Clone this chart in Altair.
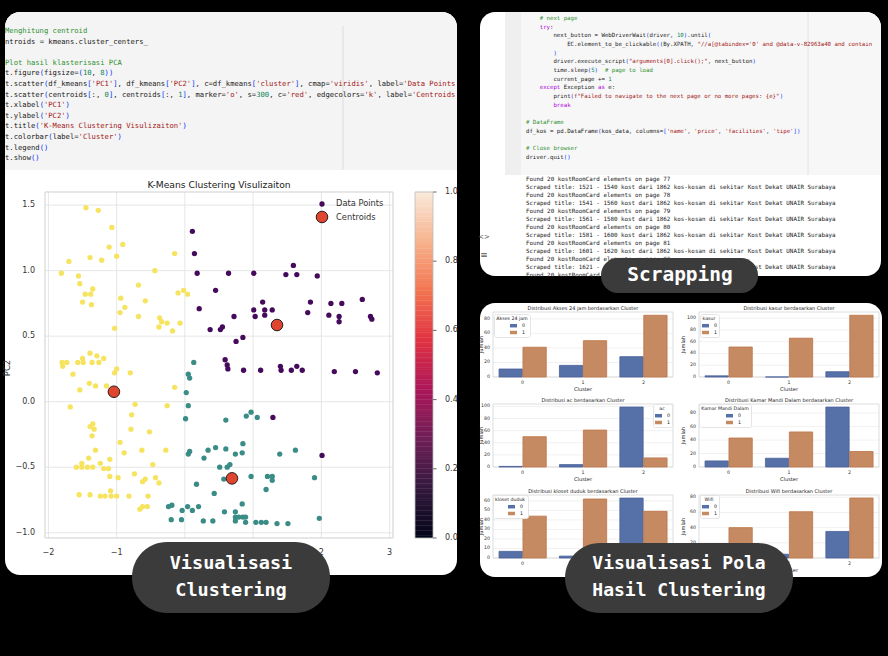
import re
import altair as alt
import pandas as pd

# ---------------- K-Means scatter data ----------------
purple_x = [0.11, 0.14, 0.18, 0.64, 0.45, 0.21, 0.37, 0.52, 0.55, 0.59, 0.62, 0.63,
            1.01, 1.59, 1.48, 1.64, 1.94, 1.14, 1.01, 1.17, 1.28, 1.03, 1.17, 0.72, 0.75, 0.85,
            1.84, 1.80, 2.14, 2.30, 2.60, 2.11, 2.26, 2.26, 2.72, 2.74,
            0.86, 1.11, 1.40, 1.41, 1.56, 1.64, 1.72, 2.19, 2.50, 2.82, 1.29, 2.01]
purple_y = [1.30, 1.13, 0.98, 0.98, 0.85, 0.71, 0.55, 0.55, 0.57, 0.32, 0.28, 0.25,
            0.98, 1.04, 0.97, 0.97, 0.96, 0.76, 0.70, 0.70, 0.70, 0.65, 0.66, 0.65, 0.46, 0.49,
            0.76, 0.68, 0.75, 0.75, 0.78, 0.66, 0.65, 0.61, 0.65, 0.63,
            0.24, 0.24, 0.27, 0.24, 0.24, 0.27, 0.24, 0.23, 0.23, 0.22, -0.12, -0.41]
teal_x = [0.13, 0.05, 0.07, 0.02, 0.05, 0.01,
          0.97, 0.90, 1.06, 0.60, 0.85, 0.60, 0.45, 0.34, 0.28, 0.74, 0.84, 1.39, 1.62,
          0.05, 0.07,
          0.51, 0.62, 0.66, 0.57, 0.97, 1.21, 1.28, 1.28, 1.90, 1.19, 0.43, 0.17,
          0.84, 0.58, 0.74, 0.74, 0.79, 0.85, 0.89, 0.74, 0.89, 0.27, 0.41, 1.04, 1.12, 1.19, 1.35, 1.51, 1.97,
          -0.24, -0.19, 0.04, 0.20, -0.04, 0.11, -0.20, -0.05]
teal_y = [0.30, 0.21, 0.18, 0.07, -0.03, -0.13,
          -0.08, -0.11, -0.12, -0.14, -0.32, -0.36, -0.35, -0.37, -0.43, -0.40, -0.39, -0.40, -0.37,
          -0.40, -0.38,
          -0.50, -0.50, -0.48, -0.59, -0.57, -0.57, -0.57, -0.60, -0.58, -0.67, -0.70, -0.63,
          -0.78, -0.84, -0.84, -0.88, -0.88, -0.88, -0.88, -0.91, -0.92, -0.91, -0.91, -0.92, -0.92, -0.92, -0.93, -0.93, -0.89,
          -0.80, -0.79, -0.80, -0.80, -0.83, -0.83, -0.90, -0.90]
yellow_x = [-1.45, -1.27, -1.07, -1.11, -0.91, -1.39, -1.22, -1.00, -1.70, -1.81, -1.56, -1.54, -1.46, -1.38,
            -1.35, -1.50, -1.37, -0.94, -0.88, -0.95, -1.03, -0.68, -0.58, -0.68, -0.44, -0.15, -0.02, -0.10,
            0.04, -0.37, -0.34, -0.26, -0.38, -0.18, -0.07,
            -1.80, -1.79, -1.73, -1.57, -1.50, -1.49, -1.39, -1.36, -1.29, -1.26, -1.19, -1.64, -1.00, -1.03, -0.80,
            -1.54, -1.40, -1.31, -1.15, -0.15, -1.68, -0.73, -0.26, -0.78, -1.39, -1.35, -1.33, -1.36, -0.79,
            -0.52, -0.95, -0.89, -1.31, -0.63, -0.28, -1.41, -1.10, -1.51, -1.24, -1.59, -1.51, -1.43, -1.35,
            -1.19, -1.12, -0.47, -0.74, -1.10, -0.98, -0.58, -0.62, -0.43, -0.38, -1.55, -1.39, -1.24, -1.17,
            -1.08, -1.00, -1.09, -0.82, -0.54, -0.62, -0.55, -0.66]
yellow_y = [1.48, 1.46, 1.33, 1.18, 1.20, 1.10, 1.08, 1.11, 1.07, 0.98, 0.96, 0.90, 0.82, 0.82,
            0.86, 0.76, 0.74, 0.79, 0.72, 0.68, 0.56, 0.89, 0.77, 0.65, 1.00, 1.13, 0.85, 0.83,
            0.82, 0.64, 0.61, 0.60, 0.57, 0.54, 0.60,
            0.30, 0.27, 0.30, 0.30, 0.33, 0.30, 0.37, 0.30, 0.35, 0.30, 0.33, 0.21, 0.25, 0.22, 0.22,
            0.09, 0.14, 0.12, 0.12, 0.11, -0.04, -0.02, -0.03, -0.10, -0.19, -0.17, -0.21, -0.26, -0.21,
            -0.23, -0.31, -0.39, -0.37, -0.37, -0.37, -0.43, -0.44, -0.47, -0.47, -0.50, -0.50, -0.50, -0.50,
            -0.51, -0.51, -0.48, -0.55, -0.57, -0.58, -0.59, -0.61, -0.58, -0.62, -0.71, -0.71, -0.72, -0.72,
            -0.72, -0.72, -0.68, -0.72, -0.72, -0.80, -0.80, -0.82]
centroid_x = [1.35, 0.69, -1.04]
centroid_y = [0.585, -0.585, 0.076]

x_ticks = [-2, -1, 0, 1, 2, 3]
x_tick_labels = ["\u22122", "\u22121", "0", "1", "2", "3"]
y_ticks = [-1.0, -0.5, 0.0, 0.5, 1.0, 1.5]
y_tick_labels = ["\u22121.0", "\u22120.5", "0.0", "0.5", "1.0", "1.5"]
cb_ticks = [0.0, 0.2, 0.4, 0.6, 0.8, 1.0]
cb_tick_labels = ["0.0", "0.2", "0.4", "0.6", "0.8", "1.0"]

# ---------------- bar chart data ----------------
clusters = [0, 1, 2]
akses_0 = [11, 16, 28]; akses_1 = [41, 50, 85]
kasur_0 = [2, 0, 9]; kasur_1 = [51, 66, 105]
ac_0 = [1, 4, 99]; ac_1 = [50, 61, 15]
kmd_0 = [9, 13, 89]; kmd_1 = [43, 52, 23]
kloset_0 = [7, 2, 63]; kloset_1 = [44, 62, 49]
wifi_0 = [11, 5, 35]; wifi_1 = [40, 61, 79]

# ---------------- code text ----------------
left_code = [
    "Menghitung centroid",
    "ntroids = kmeans.cluster_centers_",
    "",
    "Plot hasil klasterisasi PCA",
    "t.figure(figsize=(10, 8))",
    "t.scatter(df_kmeans['PC1'], df_kmeans['PC2'], c=df_kmeans['cluster'], cmap='viridis', label='Data Points",
    "t.scatter(centroids[:, 0], centroids[:, 1], marker='o', s=300, c='red', edgecolors='k', label='Centroids",
    "t.xlabel('PC1')",
    "t.ylabel('PC2')",
    "t.title('K-Means Clustering Visulizaiton')",
    "t.colorbar(label='Cluster')",
    "t.legend()",
    "t.show()",
]
left_comment_rows = [0, 3]
right_code = [
    "    # next page",
    "    try:",
    "        next_button = WebDriverWait(driver, 10).until(",
    "            EC.element_to_be_clickable((By.XPATH, \"//a[@tabindex='0' and @data-v-82963a40 and contain",
    "        )",
    "        driver.execute_script(\"arguments[0].click();\", next_button)",
    "        time.sleep(5)  # page to load",
    "        current_page += 1",
    "    except Exception as e:",
    "        print(f\"Failed to navigate to the next page or no more pages: {e}\")",
    "        break",
    "",
    "# DataFrame",
    "df_kos = pd.DataFrame(kos_data, columns=['name', 'price', 'facilities', 'tipe'])",
    "",
    "# Close browser",
    "driver.quit()",
]
output_lines = [
    "Found 20 kostRoomCard elements on page 77",
    "Scraped title: 1521 - 1540 kost dari 1862 kos-kosan di sekitar Kost Dekat UNAIR Surabaya",
    "Found 20 kostRoomCard elements on page 78",
    "Scraped title: 1541 - 1560 kost dari 1862 kos-kosan di sekitar Kost Dekat UNAIR Surabaya",
    "Found 20 kostRoomCard elements on page 79",
    "Scraped title: 1561 - 1580 kost dari 1862 kos-kosan di sekitar Kost Dekat UNAIR Surabaya",
    "Found 20 kostRoomCard elements on page 80",
    "Scraped title: 1581 - 1600 kost dari 1862 kos-kosan di sekitar Kost Dekat UNAIR Surabaya",
    "Found 20 kostRoomCard elements on page 81",
    "Scraped title: 1601 - 1620 kost dari 1862 kos-kosan di sekitar Kost Dekat UNAIR Surabaya",
    "Found 20 kostRoomCard elements on page 82",
    "Scraped title: 1621 - 1640 kost dari 1862 kos-kosan di sekitar Kost Dekat UNAIR Surabaya",
    "Found 20 kostRoomCard elements on page 83",
]

# ---------------- styles ----------------
VIRIDIS3 = ["#450a5c", "#3a8c86", "#f6e35f"]
ROCKET_STOPS = [0, 1 / 7, 2 / 7, 3 / 7, 4 / 7, 5 / 7, 6 / 7, 1]
ROCKET = ["#03051a", "#35193e", "#701f57", "#ad1759", "#e13342", "#f37651", "#f6b48f", "#faebdd"]
BLUE, ORANGE = "#5670a8", "#c68a62"
BLUE_E, ORANGE_E = "#4a619a", "#bf7446"
KINDS = ["plain", "comment", "string", "number", "bracket", "keyword"]
KCOLORS = ["#202020", "#2f8f2f", "#a31515", "#098658", "#0431fa", "#af00db"]
SANS = "DejaVu Sans"
MONO = "DejaVu Sans Mono"
ONE = pd.DataFrame({"k": [0]})


def lin(domain, rng):
    return alt.Scale(domain=domain, range=rng, nice=False, zero=False)


def box(x0, x1, y0, y1, fill, **kw):
    return alt.Chart(ONE).mark_rect(fill=fill, **kw).encode(
        x=alt.value(x0), x2=alt.value(x1), y=alt.value(y0), y2=alt.value(y1))


def vline(x, y0, y1, color):
    return alt.Chart(ONE).mark_rule(color=color, strokeWidth=1).encode(
        x=alt.value(x), y=alt.value(y0), y2=alt.value(y1))


def label(text, x, y, size, color="#222", **kw):
    return alt.Chart(ONE).mark_text(text=text, fontSize=size, color=color, font=SANS, **kw).encode(
        x=alt.value(x), y=alt.value(y))


TOK = re.compile(r"#.*$|f?\"[^\"]*\"?|'[^']*'?|\d+|[()\[\]{}]|[A-Za-z_][A-Za-z_0-9]*|\S")
KW = {"try", "except", "as", "break"}


def segments(lines, comment_rows=()):
    rows = []
    for r, line in enumerate(lines):
        if not line.strip():
            continue
        if r in comment_rows:
            rows.append((r, len(line) - len(line.lstrip()), line.strip(), "comment"))
            continue
        toks = []
        for m in TOK.finditer(line):
            s = m.group(0)
            if s.startswith("#"):
                k = "comment"
            elif s[0] in "\"'" or s.startswith('f"'):
                k = "string"
            elif s.isdigit():
                k = "number"
            elif s in "()[]{}":
                k = "bracket"
            elif s in KW:
                k = "keyword"
            else:
                k = "plain"
            toks.append([m.start(), m.end(), s, k])
        merged = []
        for t in toks:
            if merged and merged[-1][3] == t[3] and merged[-1][1] == t[0] and t[3] != "bracket":
                merged[-1][1] = t[1]
                merged[-1][2] += t[2]
            else:
                merged.append(t)
        for a, b, s, k in merged:
            rows.append((r, a, s, k))
    return pd.DataFrame(rows, columns=["row", "col", "text", "kind"])


def code_layer(df, x0, cw, y0, lh, fs, nrows):
    return alt.Chart(df).mark_text(align="left", baseline="middle", font=MONO, fontSize=fs).encode(
        x=alt.X("col:Q", scale=lin([0, 100], [x0, x0 + 100 * cw]), axis=None),
        y=alt.Y("row:Q", scale=lin([0, nrows - 1], [y0, y0 + (nrows - 1) * lh]), axis=None),
        text="text:N",
        color=alt.Color("kind:N", scale=alt.Scale(domain=KINDS, range=KCOLORS), legend=None),
    )


# ---------------- background panels ----------------
background = alt.layer(
    box(5, 457, 12, 575, "white", cornerRadius=15),
    box(5, 457, 12, 170, "#f4f4f4", cornerRadiusTopLeft=15, cornerRadiusTopRight=15),
    vline(343, 26, 170, "#dcdcdc"),
    box(480, 881, 12, 276, "white", cornerRadius=15),
    box(505, 881, 12, 175, "#f7f7f7", cornerRadiusTopRight=15),
    box(505, 521, 12, 175, "#efefef"),
    vline(808, 12, 175, "#e2e2e2"),
    label("<>", 484, 237, 7, "#555"),
    label("\u2261", 484, 255, 9, "#555"),
    box(480, 882, 303, 577, "white", cornerRadius=15),
)

# ---------------- scatter ----------------
SX = lin([-2.05, 3.05], [45, 393])
SY = lin([-1.04, 1.60], [538, 192])
pts = pd.DataFrame({
    "x": purple_x + teal_x + yellow_x,
    "y": purple_y + teal_y + yellow_y,
    "cluster": [0] * len(purple_x) + [1] * len(teal_x) + [2] * len(yellow_x),
})
cdf = pd.DataFrame({"x": centroid_x, "y": centroid_y})
xt = pd.DataFrame({"v": x_ticks, "lab": x_tick_labels})
yt = pd.DataFrame({"v": y_ticks, "lab": y_tick_labels})


def sx(f):
    return alt.X(f, scale=SX, axis=None)


def sy(f):
    return alt.Y(f, scale=SY, axis=None)


XD0 = alt.XDatum(-2.05, scale=SX, axis=None)
YD0 = alt.YDatum(-1.04, scale=SY, axis=None)

scatter = alt.layer(
    alt.Chart(xt).mark_rule(color="#e3e3e3", strokeWidth=0.9).encode(
        x=sx("v:Q"), y=YD0, y2=alt.Y2Datum(1.60)),
    alt.Chart(yt).mark_rule(color="#e3e3e3", strokeWidth=0.9).encode(
        y=sy("v:Q"), x=XD0, x2=alt.X2Datum(3.05)),
    alt.Chart(ONE).mark_rect(fillOpacity=0, stroke="#cfcfcf", strokeWidth=1).encode(
        x=XD0, x2=alt.X2Datum(3.05), y=YD0, y2=alt.Y2Datum(1.60)),
    alt.Chart(pts).mark_circle(size=28, opacity=1).encode(
        x=sx("x:Q"), y=sy("y:Q"),
        color=alt.Color("cluster:N", scale=alt.Scale(domain=[0, 1, 2], range=VIRIDIS3), legend=None)),
    alt.Chart(cdf).mark_circle(size=135, opacity=1, color="#e0452f", stroke="#111111", strokeWidth=0.9).encode(
        x=sx("x:Q"), y=sy("y:Q")),
    alt.Chart(xt).mark_text(fontSize=8, color="#333", font=SANS, dy=15).encode(
        x=sx("v:Q"), y=YD0, text="lab:N"),
    alt.Chart(yt).mark_text(fontSize=8, color="#333", font=SANS, align="right", dx=-10).encode(
        y=sy("v:Q"), x=XD0, text="lab:N"),
    alt.Chart(ONE).mark_text(text="K-Means Clustering Visulizaiton", fontSize=9.2, color="#222",
                             font=SANS, dy=-7).encode(
        x=alt.XDatum(0.5, scale=SX, axis=None), y=alt.YDatum(1.60, scale=SY, axis=None)),
)
scatter_extra = alt.layer(
    label("PC2", 7, 368, 8.5, "#333", angle=270),
    alt.Chart(ONE).mark_circle(size=28, opacity=1, color=VIRIDIS3[0]).encode(
        x=alt.value(322), y=alt.value(204)),
    alt.Chart(ONE).mark_circle(size=135, opacity=1, color="#e0452f", stroke="#111111", strokeWidth=0.9).encode(
        x=alt.value(322), y=alt.value(217)),
    label("Data Points", 336, 204, 8.3, "#333", align="left"),
    label("Centroids", 336, 218, 8.3, "#333", align="left"),
)

# ---------------- colorbar ----------------
CX = lin([0, 1], [415, 433])
CY = lin([0, 1], [538, 192])
NCELL = 140
cells = pd.DataFrame({"v": [i / NCELL for i in range(NCELL)]})
cells["v2"] = cells["v"] + 1.15 / NCELL
cbt = pd.DataFrame({"v": cb_ticks, "lab": cb_tick_labels})
colorbar = alt.layer(
    alt.Chart(cells).mark_rect(strokeWidth=0).encode(
        x=alt.XDatum(0, scale=CX, axis=None), x2=alt.X2Datum(1),
        y=alt.Y("v:Q", scale=CY, axis=None), y2="v2:Q",
        color=alt.Color("v:Q", scale=alt.Scale(domain=ROCKET_STOPS, range=ROCKET, interpolate="rgb"),
                        legend=None)),
    alt.Chart(ONE).mark_rect(fillOpacity=0, stroke="#bbbbbb", strokeWidth=0.8).encode(
        x=alt.XDatum(0, scale=CX, axis=None), x2=alt.X2Datum(1),
        y=alt.YDatum(0, scale=CY, axis=None), y2=alt.Y2Datum(1)),
    alt.Chart(cbt).mark_rule(color="#444", strokeWidth=0.8).encode(
        y=alt.Y("v:Q", scale=CY, axis=None),
        x=alt.XDatum(1.0, scale=CX, axis=None), x2=alt.X2Datum(1.2)),
    alt.Chart(cbt).mark_text(fontSize=8, color="#333", font=SANS, align="left", dx=12).encode(
        y=alt.Y("v:Q", scale=CY, axis=None), x=alt.XDatum(1.0, scale=CX, axis=None), text="lab:N"),
)

# ---------------- code blocks ----------------
left_code_layer = code_layer(segments(left_code, left_comment_rows), 5, 4.33, 31, 10.6, 7.2, len(left_code))
right_code_layer = code_layer(segments(right_code), 526, 3.43, 18, 8.68, 5.7, len(right_code))
out_df = pd.DataFrame({"row": list(range(len(output_lines))), "col": [0] * len(output_lines),
                       "text": output_lines, "kind": ["plain"] * len(output_lines)})
output_layer = code_layer(out_df, 526, 3.52, 179, 8.0, 5.85, len(output_lines))

# ---------------- bar charts ----------------
FS = 4.7
RECT = "M-1,-0.5L1,-0.5L1,0.5L-1,0.5Z"


def bar_panel(v0, v1, fx, fy, ylim, ticks, title, ltitle, lpos, soff, ylab_x):
    SXb = lin([-0.49, 2.49], list(fx))
    SYb = lin([0, ylim], [fy[1], fy[0]])
    df = pd.DataFrame({"cluster": clusters * 2, "g": ["0"] * 3 + ["1"] * 3, "n": list(v0) + list(v1)})
    tk = pd.DataFrame({"v": ticks})
    cl = pd.DataFrame({"c": clusters})
    xd_l = alt.XDatum(-0.49, scale=SXb, axis=None)
    yd_0 = alt.YDatum(0, scale=SYb, axis=None)
    leg = alt.Legend(
        title=ltitle, orient="none", legendX=lpos[0], legendY=lpos[1],
        titleFontSize=FS, labelFontSize=FS, titleFontWeight="normal", titleFont=SANS, labelFont=SANS,
        titleColor="#222", labelColor="#222", titleAnchor="middle", titlePadding=1.5,
        symbolType=RECT, symbolSize=49, symbolStrokeWidth=0, symbolOffset=soff,
        rowPadding=0.8, labelOffset=5, padding=2, fillColor="white", strokeColor="#e4e4e4",
        cornerRadius=2,
    )
    return alt.layer(
        alt.Chart(tk).mark_rule(color="#ebebeb", strokeWidth=0.7).encode(
            y=alt.Y("v:Q", scale=SYb, axis=None), x=xd_l, x2=alt.X2Datum(2.49)),
        alt.Chart(ONE).mark_rect(fillOpacity=0, stroke="#d4d4d4", strokeWidth=0.8).encode(
            x=xd_l, x2=alt.X2Datum(2.49), y=yd_0, y2=alt.Y2Datum(ylim)),
        alt.Chart(df).transform_calculate(
            xl="datum.cluster + (datum.g == '0' ? -0.39 : 0.006)",
            xr="datum.cluster + (datum.g == '0' ? -0.004 : 0.392)",
        ).mark_bar(strokeWidth=0.8).encode(
            x=alt.X("xl:Q", scale=SXb, axis=None), x2="xr:Q",
            y=alt.Y("n:Q", scale=SYb, axis=None), y2=alt.Y2Datum(0),
            color=alt.Color("g:N", scale=alt.Scale(domain=["0", "1"], range=[BLUE, ORANGE]), legend=leg),
            stroke=alt.Stroke("g:N", scale=alt.Scale(domain=["0", "1"], range=[BLUE_E, ORANGE_E]),
                              legend=None),
        ),
        alt.Chart(tk).mark_text(align="right", dx=-3, fontSize=FS, color="#333", font=SANS).encode(
            y=alt.Y("v:Q", scale=SYb, axis=None), x=xd_l, text="v:Q"),
        alt.Chart(cl).mark_text(dy=6, fontSize=FS, color="#333", font=SANS).encode(
            x=alt.X("c:Q", scale=SXb, axis=None), y=yd_0, text="c:Q"),
        alt.Chart(ONE).mark_text(text="Cluster", dy=12, fontSize=FS + 0.4, color="#222", font=SANS).encode(
            x=alt.XDatum(1, scale=SXb, axis=None), y=yd_0),
        alt.Chart(ONE).mark_text(text=title, dy=-4.5, fontSize=FS + 0.3, color="#222", font=SANS).encode(
            x=alt.XDatum(1, scale=SXb, axis=None), y=alt.YDatum(ylim, scale=SYb, axis=None)),
        label("Jumlah", ylab_x, (fy[0] + fy[1]) / 2, FS + 0.4, "#222", angle=270),
    )


LC, RC = (493, 673), (699, 879)
R1, R2, R3 = (312, 377), (404, 467), (495, 558)
bars = [
    bar_panel(akses_0, akses_1, LC, R1, 89.5, [0, 20, 40, 60, 80],
              "Distribusi Akses 24 jam berdasarkan Cluster", "Akses 24 jam", (494, 314), 10, 481),
    bar_panel(kasur_0, kasur_1, RC, R1, 110.5, [0, 20, 40, 60, 80, 100],
              "Distribusi kasur berdasarkan Cluster", "kasur", (700, 314), 0, 683),
    bar_panel(ac_0, ac_1, LC, R2, 104, [0, 20, 40, 60, 80, 100],
              "Distribusi ac berdasarkan Cluster", "ac", (653, 404), 0, 481),
    bar_panel(kmd_0, kmd_1, RC, R2, 93.5, [0, 20, 40, 60, 80],
              "Distribusi Kamar Mandi Dalam berdasarkan Cluster", "Kamar Mandi Dalam", (699, 404), 17, 683),
    bar_panel(kloset_0, kloset_1, LC, R3, 66.2, [0, 10, 20, 30, 40, 50, 60],
              "Distribusi kloset duduk berdasarkan Cluster", "kloset duduk", (493, 495), 10, 481),
    bar_panel(wifi_0, wifi_1, RC, R3, 83, [0, 20, 40, 60, 80],
              "Distribusi Wifi berdasarkan Cluster", "Wifi", (700, 495), 0, 683),
]

# ---------------- pills ----------------
PILL = "#3b3b3b"


def pill_text(text, x, y, size):
    return alt.Chart(ONE).mark_text(text=text, fontSize=size, color="white", font=MONO,
                                    fontWeight="bold", baseline="middle").encode(
        x=alt.value(x), y=alt.value(y))


pills = alt.layer(
    box(132, 330, 542, 613, PILL, cornerRadius=35),
    pill_text("Visualisasi", 231, 563, 18.5),
    pill_text("Clustering", 231, 590, 18.5),
    box(601, 758, 258, 293, PILL, cornerRadius=17),
    pill_text("Scrapping", 680, 275, 19.5),
    box(565, 793, 543, 613, PILL, cornerRadius=35),
    pill_text("Visualisasi Pola", 679, 564, 18),
    pill_text("Hasil Clustering", 679, 591, 18),
)

chart = alt.layer(
    background, scatter, scatter_extra, colorbar, left_code_layer, right_code_layer, output_layer,
    *bars, pills,
).resolve_scale(
    x="independent", y="independent", color="independent"
).properties(
    width=888, height=656, padding=0, autosize=alt.AutoSizeParams(type="none")
).configure(
    background="black"
).configure_view(
    stroke=None
)

chart.save("out.html", embed_options={"renderer": "svg", "actions": False})
